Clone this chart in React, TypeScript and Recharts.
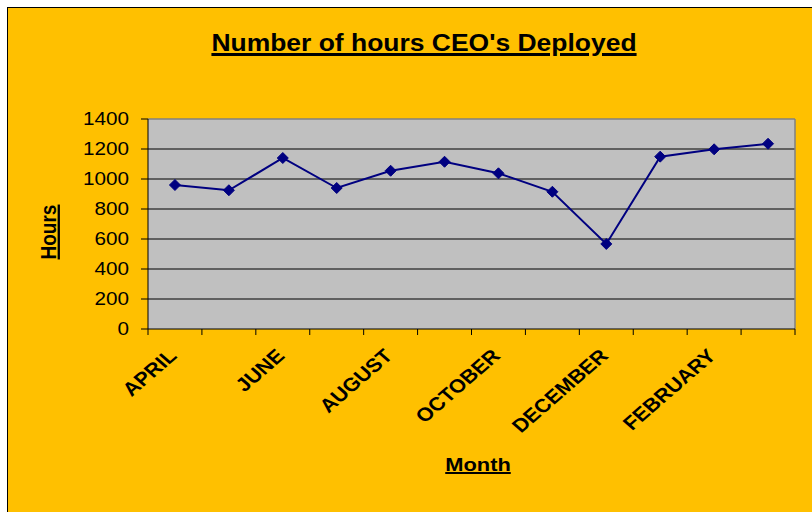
import { LineChart, Line, XAxis, YAxis, CartesianGrid } from "recharts";

const months = [
  "APRIL", "MAY", "JUNE", "JULY", "AUGUST", "SEPTEMBER",
  "OCTOBER", "NOVEMBER", "DECEMBER", "JANUARY", "FEBRUARY", "MARCH",
];
const hours = [960, 925, 1140, 940, 1055, 1115, 1038, 915, 567, 1149, 1198, 1235];
const yTicks = [0, 200, 400, 600, 800, 1000, 1200, 1400];

const data = months.map((month, i) => ({ month, hours: hours[i] }));

const FONT = "'Liberation Sans', Arial, sans-serif";
const STRETCH = 1.15;
const BAND = 647 / 12;

function XTick(props: any) {
  const { x, y, index, payload } = props;
  return (
    <g>
      <line x1={x - BAND / 2} y1={y} x2={x - BAND / 2} y2={y + 6} stroke="#000" />
      {index === months.length - 1 && (
        <line x1={x + BAND / 2} y1={y} x2={x + BAND / 2} y2={y + 6} stroke="#000" />
      )}
      {index % 2 === 0 && (
        <text
          transform={`translate(${x + 3},${y + 28}) scale(${STRETCH},1) rotate(-45)`}
          textAnchor="end"
          fontFamily={FONT}
          fontWeight="bold"
          fontSize={19}
          fill="#000"
        >
          {payload.value}
        </text>
      )}
    </g>
  );
}

function YTick(props: any) {
  const { x, y, payload } = props;
  return (
    <text
      transform={`translate(${x},${y}) scale(${STRETCH},1)`}
      textAnchor="end"
      dy="0.36em"
      fontFamily={FONT}
      fontSize={18}
      fill="#000"
    >
      {payload.value}
    </text>
  );
}

function Diamond(props: any) {
  const { cx, cy } = props;
  if (cx == null || cy == null) return null;
  const r = 5.5;
  return (
    <polygon
      points={`${cx},${cy - r} ${cx + r},${cy} ${cx},${cy + r} ${cx - r},${cy}`}
      fill="#000080"
      stroke="#000080"
    />
  );
}

const labelBase: React.CSSProperties = {
  position: "absolute",
  fontFamily: FONT,
  fontWeight: "bold",
  color: "#000",
  lineHeight: 1,
  whiteSpace: "nowrap",
  textDecoration: "underline",
};

export default function App() {
  return (
    <div
      style={{
        position: "absolute",
        left: 7,
        top: 7,
        width: 804,
        height: 504,
        borderTop: "1px solid #000",
        borderLeft: "1px solid #000",
        background: "#FFC000",
      }}
    >
      <div
        style={{
          ...labelBase,
          left: 416,
          top: 24,
          fontSize: 23,
          textDecorationThickness: 3,
          transform: `translateX(-50%) scaleX(${STRETCH})`,
        }}
      >
        Number of hours CEO's Deployed
      </div>
      <div
        style={{
          ...labelBase,
          left: 470,
          top: 447,
          fontSize: 19,
          textDecorationThickness: 2,
          transform: `translateX(-50%) scaleX(${STRETCH})`,
        }}
      >
        Month
      </div>
      <div
        style={{
          ...labelBase,
          left: 41,
          top: 224,
          fontSize: 19,
          textDecorationThickness: 2,
          transform: `translate(-50%,-50%) scaleX(${STRETCH}) rotate(-90deg)`,
        }}
      >
        Hours
      </div>
      <LineChart
        width={804}
        height={504}
        data={data}
        margin={{ top: 111, right: 17, left: 80, bottom: 83 }}
      >
        <CartesianGrid
          fill="#C0C0C0"
          stroke="#000"
          vertical={false}
          horizontalCoordinatesGenerator={({ offset }: any) =>
            yTicks.slice(1, -1).map((t) => offset.top + offset.height * (1 - t / 1400))
          }
        />
        <CartesianGrid
          stroke="#808080"
          strokeWidth={1.5}
          horizontalCoordinatesGenerator={({ offset }: any) => [offset.top]}
          verticalCoordinatesGenerator={({ offset }: any) => [offset.left + offset.width]}
        />
        <XAxis
          dataKey="month"
          interval={0}
          padding={{ left: BAND / 2, right: BAND / 2 }}
          tickSize={0}
          tickMargin={0}
          tickLine={false}
          axisLine={{ stroke: "#000" }}
          tick={<XTick />}
          height={100}
        />
        <YAxis
          domain={[0, 1400]}
          ticks={yTicks}
          width={60}
          tickSize={7}
          tickMargin={12}
          axisLine={{ stroke: "#000" }}
          tickLine={{ stroke: "#000" }}
          tick={<YTick />}
        />
        <Line
          dataKey="hours"
          stroke="#000080"
          strokeWidth={2}
          dot={<Diamond />}
          activeDot={false}
          isAnimationActive={false}
        />
      </LineChart>
    </div>
  );
}
